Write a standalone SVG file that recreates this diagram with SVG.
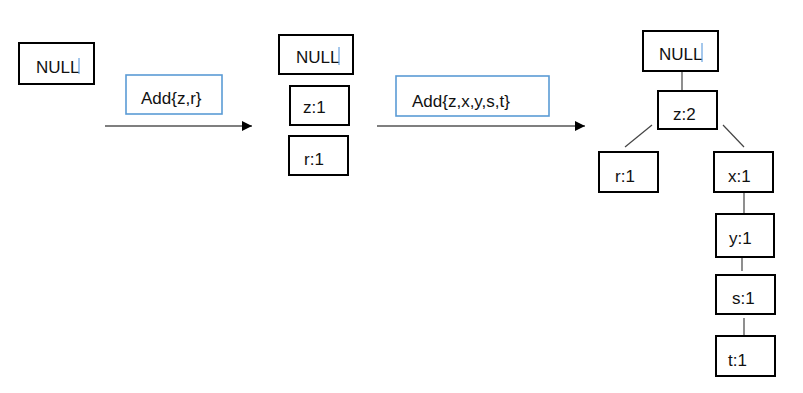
<svg xmlns="http://www.w3.org/2000/svg" width="803" height="393" viewBox="0 0 803 393">
<defs>
<style>
.box{fill:#fff;stroke:#000;stroke-width:2}
.op{fill:#fff;stroke:#5b9bd5;stroke-width:1.6}
.t{font-family:"Liberation Sans",Arial,sans-serif;font-size:17px;fill:#111}
.ln{stroke:#444;stroke-width:1.2;fill:none}
.ar{stroke:#000;stroke-width:1.2;fill:none}
.cur{stroke:#4a90d9;stroke-width:1}
</style>
<marker id="ah" viewBox="0 0 10 10" refX="10" refY="5" markerWidth="10" markerHeight="10" markerUnits="userSpaceOnUse" orient="auto">
<path d="M0,0 L10,5 L0,10 z" fill="#000"/>
</marker>
</defs>
<rect width="803" height="393" fill="#fff"/>
<g id="connectors">
<line class="ar" x1="105" y1="126" x2="252" y2="126" marker-end="url(#ah)"/>
<line class="ar" x1="377" y1="126" x2="585" y2="126" marker-end="url(#ah)"/>
<line class="ln" x1="682" y1="71" x2="682" y2="91"/>
<line class="ln" x1="652" y1="125" x2="625" y2="147"/>
<line class="ln" x1="723" y1="125" x2="744" y2="147"/>
<line class="ln" x1="744" y1="192" x2="744" y2="214"/>
<line class="ln" x1="742" y1="257" x2="742" y2="271"/>
<line class="ln" x1="744" y1="318" x2="744" y2="336"/>
</g>
<g id="null1"><rect class="box" x="19" y="43" width="75" height="41"/><text class="t" x="36" y="73">NULL</text><line class="cur" x1="79" y1="58" x2="79" y2="74"/></g>
<g id="op1"><rect class="op" x="126" y="75" width="96" height="39"/><text class="t" x="141" y="104">Add{z,r}</text></g>
<g id="null2"><rect class="box" x="279" y="35" width="74" height="39"/><text class="t" x="296" y="63">NULL</text><line class="cur" x1="339" y1="47" x2="339" y2="65"/></g>
<g id="z1"><rect class="box" x="290" y="86" width="59" height="39"/><text class="t" x="303" y="113">z:1</text></g>
<g id="r1"><rect class="box" x="289" y="136" width="59" height="39"/><text class="t" x="304" y="165">r:1</text></g>
<g id="op2"><rect class="op" x="396" y="76" width="153" height="40"/><text class="t" x="412" y="107">Add{z,x,y,s,t}</text></g>
<g id="null3"><rect class="box" x="643" y="31" width="75" height="40"/><text class="t" x="659" y="60">NULL</text><line class="cur" x1="702" y1="43" x2="702" y2="62"/></g>
<g id="z2"><rect class="box" x="658" y="91" width="59" height="38"/><text class="t" x="673" y="120">z:2</text></g>
<g id="r1b"><rect class="box" x="599" y="152" width="59" height="40"/><text class="t" x="615" y="182">r:1</text></g>
<g id="x1"><rect class="box" x="714" y="152" width="59" height="40"/><text class="t" x="728" y="182">x:1</text></g>
<g id="y1"><rect class="box" x="716" y="214" width="58" height="43"/><text class="t" x="729" y="244">y:1</text></g>
<g id="s1"><rect class="box" x="716" y="275" width="59" height="39"/><text class="t" x="732" y="304">s:1</text></g>
<g id="t1"><rect class="box" x="716" y="336" width="59" height="40"/><text class="t" x="728" y="366">t:1</text></g>
</svg>
